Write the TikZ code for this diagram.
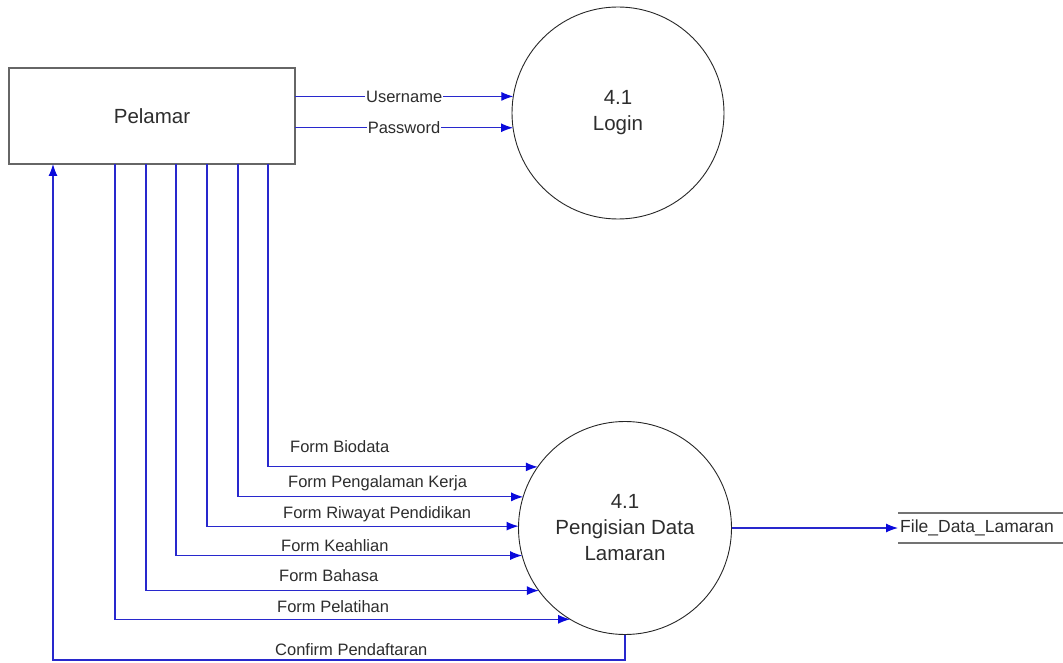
\documentclass[tikz,border=0pt]{standalone}
\usepackage{fontspec}
\setmainfont{Liberation Sans}
\usetikzlibrary{arrows.meta}
\definecolor{flowblue}{RGB}{40,40,205}
\definecolor{tipblue}{RGB}{10,10,220}
\definecolor{ink}{RGB}{45,45,45}
\begin{document}
\begin{tikzpicture}[x=1pt, y=-1pt,
  entity/.style={draw=black!60, line width=1.5pt, minimum width=286pt, minimum height=96pt,
    inner sep=0pt, outer sep=0pt, font=\fontsize{20.5}{26}\selectfont, text=ink},
  proc/.style={circle, draw=black!85, line width=0.9pt, inner sep=0pt, outer sep=0pt,
    align=center, font=\fontsize{20.5}{26}\selectfont, text=ink},
  flow/.style={draw=flowblue, line width=1.1pt, -{Latex[length=12pt,width=9pt,color=tipblue]}},
  lbl/.style={font=\fontsize{16.5}{19}\selectfont, text=ink, inner sep=1pt},
  storetxt/.style={font=\fontsize{17.5}{20}\selectfont, text=ink, inner sep=2pt,
    minimum height=30pt, anchor=west},
  storeline/.style={draw=black!55, line width=1.6pt}]
\useasboundingbox (0,0) rectangle (1063,663);

% external entity and processes
\node[entity] (pel) at (152,116) {Pelamar};
\node[proc, minimum size=212pt] (login) at (618,113) {4.1\\Login};
\node[proc, minimum size=213pt] (isi) at (625,528) {4.1\\Pengisian Data\\Lamaran};

% data store
\node[storetxt] (fdl) at (898,528) {File\_Data\_Lamaran};
\coordinate (fdlend) at (1063,528);
\draw[storeline] (fdl.north west) -- (fdl.north west -| fdlend);
\draw[storeline] (fdl.south west) -- (fdl.south west -| fdlend);

% login flows
\draw[flow] (pel.east |- login.171.9) -- (login.171.9)
  node[lbl, fill=white, midway] (lusr) {Username};
\draw[flow] (pel.east |- login.188.7) -- (login.188.7)
  node[lbl, fill=white, midway] (lpwd) {Password};

% form flows into the registration process
\draw[flow] (pel.south -| 268,0) |- (isi.145.05);
\draw[flow] (pel.south -| 238,0) |- (isi.163.1);
\draw[flow] (pel.south -| 207,0) |- (isi.179.5);
\draw[flow] (pel.south -| 176,0) |- (isi.195.8);
\draw[flow] (pel.south -| 146,0) |- (isi.216.3);
\draw[flow] (pel.south -| 115,0) |- (isi.239.75);

\node[lbl, anchor=west] (lbio) at (289,447) {Form Biodata};
\node[lbl, anchor=west] (lpeng) at (287,483) {Form Pengalaman Kerja};
\node[lbl, anchor=west] (lriw) at (282,514) {Form Riwayat Pendidikan};
\node[lbl, anchor=west] (lkeah) at (280,546) {Form Keahlian};
\node[lbl, anchor=west] (lbhs) at (278,576) {Form Bahasa};
\node[lbl, anchor=west] (lpel) at (276,607) {Form Pelatihan};

% confirmation back to the applicant
\coordinate (conf) at (625,660);
\draw[flow] (isi.south) -- (conf) -| (pel.south -| 53,0);
\node[lbl, anchor=west] (lconf) at (274,650) {Confirm Pendaftaran};

% output to the data store
\draw[flow] (isi.east) -- (fdl.west);
\end{tikzpicture}
\end{document}
